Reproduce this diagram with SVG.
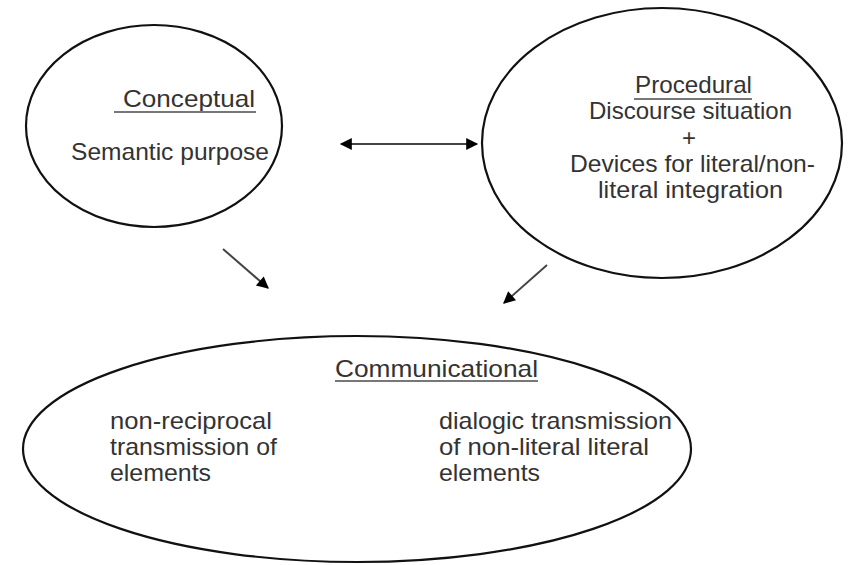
<svg xmlns="http://www.w3.org/2000/svg" width="864" height="565" viewBox="0 0 864 565">
<defs>
<marker id="ah" viewBox="0 0 10 10" refX="9" refY="5" markerWidth="14" markerHeight="12" markerUnits="userSpaceOnUse" orient="auto-start-reverse">
<path d="M0,0 L10,5 L0,10 z" fill="#000"/>
</marker>
<style>
.shape{fill:none;stroke:#111;stroke-width:2.2}
.t{font-family:"Liberation Sans",Arial,sans-serif;font-size:24px;fill:#333}
.ul{stroke:#777;stroke-width:2}
.con{stroke:#444;stroke-width:2;fill:none}
</style>
</defs>
<rect width="864" height="565" fill="#fff"/>
<g id="conceptual">
<ellipse class="shape" cx="154" cy="126" rx="128" ry="101"/>
<text class="t" x="123" y="107" textLength="132" lengthAdjust="spacingAndGlyphs">Conceptual</text>
<line class="ul" x1="114" y1="112" x2="256" y2="112"/>
<text class="t" x="71" y="160" textLength="198" lengthAdjust="spacingAndGlyphs">Semantic purpose</text>
</g>
<g id="procedural">
<ellipse class="shape" cx="662" cy="143" rx="180" ry="135"/>
<text class="t" x="635" y="93" textLength="117" lengthAdjust="spacingAndGlyphs">Procedural</text>
<line class="ul" x1="634" y1="99" x2="752" y2="99"/>
<text class="t" x="589" y="119" textLength="203" lengthAdjust="spacingAndGlyphs">Discourse situation</text>
<text class="t" x="689" y="146" text-anchor="middle">+</text>
<text class="t" x="570" y="172" textLength="245" lengthAdjust="spacingAndGlyphs">Devices for literal/non-</text>
<text class="t" x="598" y="198" textLength="185" lengthAdjust="spacingAndGlyphs">literal integration</text>
</g>
<g id="communicational">
<ellipse class="shape" cx="357" cy="449" rx="334" ry="113"/>
<text class="t" x="335" y="377" textLength="203" lengthAdjust="spacingAndGlyphs">Communicational</text>
<line class="ul" x1="335" y1="381" x2="538" y2="381"/>
<text class="t" x="110" y="429" textLength="162" lengthAdjust="spacingAndGlyphs">non-reciprocal</text>
<text class="t" x="110" y="455" textLength="167" lengthAdjust="spacingAndGlyphs">transmission of</text>
<text class="t" x="110" y="481" textLength="101" lengthAdjust="spacingAndGlyphs">elements</text>
<text class="t" x="439" y="429" textLength="233" lengthAdjust="spacingAndGlyphs">dialogic transmission</text>
<text class="t" x="439" y="455" textLength="210" lengthAdjust="spacingAndGlyphs">of non-literal literal</text>
<text class="t" x="439" y="481" textLength="101" lengthAdjust="spacingAndGlyphs">elements</text>
</g>
<g id="connectors">
<line class="con" x1="341" y1="144" x2="477" y2="144" marker-start="url(#ah)" marker-end="url(#ah)"/>
<line class="con" x1="223" y1="249" x2="268" y2="288" marker-end="url(#ah)"/>
<line class="con" x1="547" y1="265" x2="504" y2="303" marker-end="url(#ah)"/>
</g>
</svg>
